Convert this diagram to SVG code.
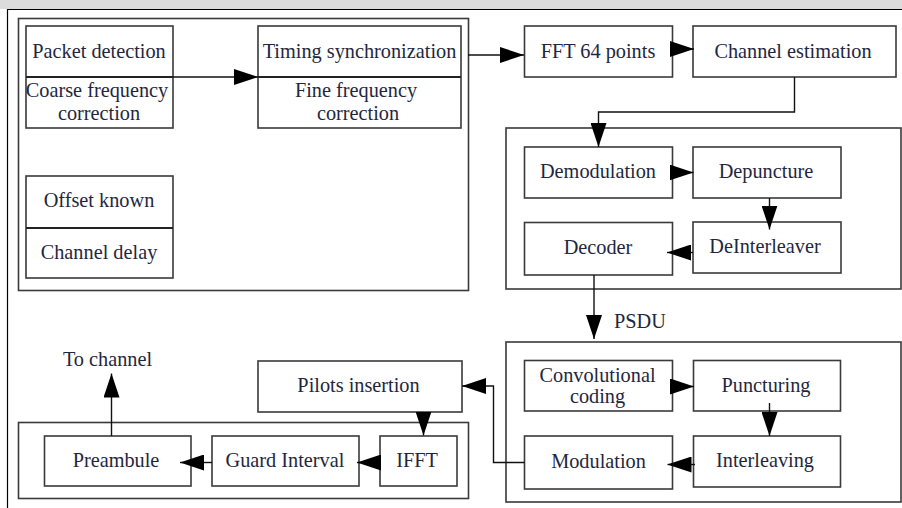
<svg xmlns="http://www.w3.org/2000/svg" width="902" height="508" viewBox="0 0 902 508">
<defs>
<marker id="ah" markerUnits="userSpaceOnUse" markerWidth="24" markerHeight="16" refX="24" refY="8" orient="auto">
<path d="M0,0 L24,8 L0,16 z" fill="#000"/>
</marker>
<style>
.box{fill:#fff;stroke:#3a3a3a;stroke-width:1.6}
.grp{fill:none;stroke:#3a3a3a;stroke-width:1.6}
.sep{stroke:#222;stroke-width:1.8}
.t{font-family:"Liberation Serif","Times New Roman",serif;font-size:20.3px;fill:#1f2740;text-anchor:middle}
.c{fill:none;stroke:#111;stroke-width:1.4}
</style>
</defs>
<rect x="0" y="0" width="902" height="508" fill="#fff"/>
<rect x="0" y="0" width="902" height="9" fill="#dcdcdc"/>
<path d="M7.5,508 V9.5 H902" fill="none" stroke="#000" stroke-width="1.2"/>

<g id="receiver-sync">
<rect class="grp" x="18.5" y="18.5" width="450" height="272"/>
</g>
<g id="packet-detection">
<rect class="box" x="26" y="26" width="147" height="102"/>
<line class="sep" x1="26" y1="77" x2="173" y2="77"/>
<text class="t" x="99" y="58">Packet detection</text>
<text class="t" x="97" y="97">Coarse frequency</text>
<text class="t" x="99" y="120">correction</text>
</g>
<g id="timing-sync">
<rect class="box" x="258" y="26" width="203" height="102"/>
<line class="sep" x1="258" y1="77" x2="461" y2="77"/>
<text class="t" x="359.5" y="58">Timing synchronization</text>
<text class="t" x="356" y="97">Fine frequency</text>
<text class="t" x="358" y="120">correction</text>
</g>
<g id="offset-known">
<rect class="box" x="26" y="176" width="147" height="102"/>
<line class="sep" x1="26" y1="228" x2="173" y2="228"/>
<text class="t" x="99" y="207">Offset known</text>
<text class="t" x="99" y="259">Channel delay</text>
</g>
<g id="fft">
<rect class="box" x="524.5" y="26" width="148" height="51"/>
<text class="t" x="598" y="58">FFT 64 points</text>
</g>
<g id="channel-estimation">
<rect class="box" x="693" y="26" width="203" height="51"/>
<text class="t" x="793" y="58">Channel estimation</text>
</g>
<g id="receiver-decode">
<rect class="grp" x="506" y="128" width="395" height="161"/>
</g>
<g id="demodulation">
<rect class="box" x="524.5" y="147" width="148" height="51"/>
<text class="t" x="598" y="178">Demodulation</text>
</g>
<g id="depuncture">
<rect class="box" x="693" y="147" width="148" height="51"/>
<text class="t" x="766" y="178">Depuncture</text>
</g>
<g id="deinterleaver">
<rect class="box" x="693" y="222" width="148" height="51"/>
<text class="t" x="765" y="253">DeInterleaver</text>
</g>
<g id="decoder">
<rect class="box" x="524.5" y="222.5" width="148" height="52.5"/>
<text class="t" x="598" y="254">Decoder</text>
</g>
<g id="psdu">
<text class="t" x="640" y="328">PSDU</text>
</g>
<g id="transmitter-code">
<rect class="grp" x="506" y="342" width="395" height="160"/>
</g>
<g id="convolutional-coding">
<rect class="box" x="524.5" y="360.5" width="148" height="50.5"/>
<text class="t" x="597.5" y="382">Convolutional</text>
<text class="t" x="597.5" y="403">coding</text>
</g>
<g id="puncturing">
<rect class="box" x="693.5" y="360.5" width="147" height="50.5"/>
<text class="t" x="766" y="392">Puncturing</text>
</g>
<g id="interleaving">
<rect class="box" x="693.5" y="436" width="147" height="51"/>
<text class="t" x="765" y="467">Interleaving</text>
</g>
<g id="modulation">
<rect class="box" x="524.5" y="436" width="148" height="53"/>
<text class="t" x="598.5" y="468">Modulation</text>
</g>
<g id="pilots-insertion">
<rect class="box" x="258" y="361" width="204" height="51"/>
<text class="t" x="358.5" y="392">Pilots insertion</text>
</g>
<g id="transmitter-ofdm">
<rect class="grp" x="18.5" y="422.5" width="450" height="76"/>
</g>
<g id="ifft">
<rect class="box" x="380" y="436" width="77" height="50"/>
<text class="t" x="417" y="467">IFFT</text>
</g>
<g id="guard-interval">
<rect class="box" x="212" y="436" width="147" height="50"/>
<text class="t" x="285" y="467">Guard Interval</text>
</g>
<g id="preambule">
<rect class="box" x="44.5" y="436" width="146.5" height="50"/>
<text class="t" x="116" y="467">Preambule</text>
</g>
<g id="to-channel">
<text class="t" x="107.5" y="366">To channel</text>
</g>

<g id="connectors">
<line class="c" x1="173" y1="77" x2="258" y2="77" marker-end="url(#ah)"/>
<line class="c" x1="468" y1="55" x2="524" y2="55" marker-end="url(#ah)"/>
<line class="c" x1="672" y1="49" x2="694" y2="49" marker-end="url(#ah)"/>
<polyline class="c" points="794.5,77 794.5,112 598.5,112 598.5,147" marker-end="url(#ah)"/>
<line class="c" x1="670" y1="172.5" x2="693.5" y2="172.5" marker-end="url(#ah)"/>
<line class="c" x1="769.5" y1="198" x2="769.5" y2="229.5" marker-end="url(#ah)"/>
<line class="c" x1="693" y1="252.5" x2="667" y2="252.5" marker-end="url(#ah)"/>
<line class="c" x1="594" y1="275" x2="594" y2="339" marker-end="url(#ah)"/>
<line class="c" x1="670" y1="386.5" x2="694" y2="386.5" marker-end="url(#ah)"/>
<line class="c" x1="769.5" y1="403" x2="769.5" y2="436" marker-end="url(#ah)"/>
<line class="c" x1="695" y1="464.5" x2="667.5" y2="464.5" marker-end="url(#ah)"/>
<polyline class="c" points="524.5,462.5 493.5,462.5 493.5,386 462,386" marker-end="url(#ah)"/>
<line class="c" x1="423.5" y1="412" x2="423.5" y2="435.5" marker-end="url(#ah)"/>
<line class="c" x1="381" y1="462.5" x2="357" y2="462.5" marker-end="url(#ah)"/>
<line class="c" x1="212" y1="462.5" x2="180" y2="462.5" marker-end="url(#ah)"/>
<line class="c" x1="111.5" y1="436" x2="111.5" y2="373.5" marker-end="url(#ah)"/>
</g>
</svg>
